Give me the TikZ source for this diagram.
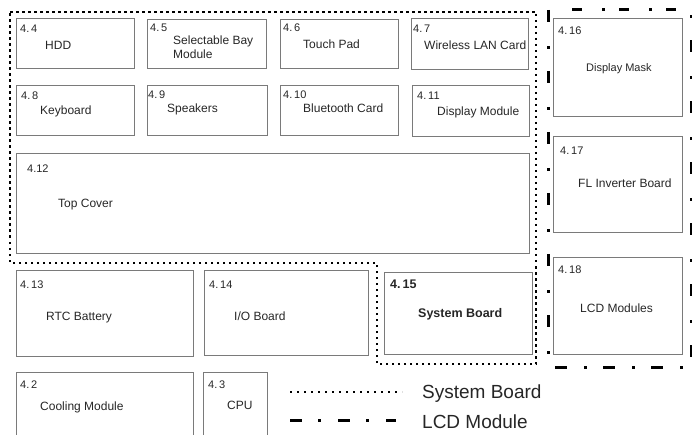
\documentclass[tikz,border=0pt]{standalone}
\usepackage{fontspec}
\setmainfont{Liberation Sans}
\definecolor{boxgray}{HTML}{7A7A7A}
\definecolor{txtgray}{HTML}{262626}
\tikzset{
  box/.style={draw=boxgray, line width=0.9pt, inner sep=0pt, rectangle},
  num/.style={anchor=base west, inner sep=0pt, font=\fontsize{11}{13}\selectfont, text=txtgray},
  lbl/.style={anchor=base west, inner sep=0pt, font=\fontsize{12}{14}\selectfont, text=txtgray},
  sbline/.style={line width=2.5pt, dash pattern=on 2.5pt off 3.5pt},
  lcdh/.style={line width=3pt, dash pattern=on 10pt off 20pt on 3pt off 14pt},
  lcdv/.style={line width=3pt, dash pattern=on 12pt off 24pt on 3pt off 22pt},
  lcdb/.style={line width=3pt, dash pattern=on 12pt off 17pt on 3pt off 16pt},
  legtext/.style={anchor=base west, inner sep=0pt, font=\fontsize{19}{22}\selectfont, text=txtgray},
}
\newcommand\mkbox[5]{\node[box, minimum width={#4-#2}, minimum height={#5-#3}] (#1) at ({(#2+#4)/2},{(#3+#5)/2}) {};}
\begin{document}
\begin{tikzpicture}[x=1pt,y=-1pt]
\useasboundingbox (0,0) rectangle (692,435);
% boxes
\mkbox{b44}{16}{18}{134}{68}
\mkbox{b45}{147}{19}{266}{68}
\mkbox{b46}{280}{19}{398}{68}
\mkbox{b47}{411}{18}{528}{69}
\mkbox{b48}{16}{85}{134}{135}
\mkbox{b49}{147}{85}{267}{135}
\mkbox{b410}{280}{85}{398}{135}
\mkbox{b411}{412}{85}{529}{136}
\mkbox{b412}{16}{153}{529}{253}
\mkbox{b413}{16}{270}{193}{356}
\mkbox{b414}{204}{270}{368}{355}
\mkbox{b415}{384}{272}{532}{354}
\mkbox{b42}{16}{372}{193}{445}
\mkbox{b43}{203}{372}{267}{445}
\mkbox{b416}{553}{18}{682}{116}
\mkbox{b417}{553}{136}{682}{232}
\mkbox{b418}{553}{257}{682}{354}
% numbers
\node[num] (n44) at (20,33) {4.\,4};
\node[num] (n45) at (150,32) {4.\,5};
\node[num] (n46) at (283,32) {4.\,6};
\node[num] (n47) at (413,33) {4.\,7};
\node[num] (n48) at (21,100) {4.\,8};
\node[num] (n49) at (148,99) {4.\,9};
\node[num] (n410) at (283,99) {4.\,10};
\node[num] (n411) at (417,100) {4.\,11};
\node[num] (n412) at (27,173) {4.12};
\node[num] (n413) at (20,288) {4.\,13};
\node[num] (n414) at (209,288) {4.\,14};
\node[num, font=\bfseries\fontsize{12.5}{14}\selectfont] (n415) at (390,288) {4.\,15};
\node[num] (n42) at (20,388) {4.\,2};
\node[num] (n43) at (208,388) {4.\,3};
\node[num] (n416) at (558,35) {4.\,16};
\node[num] (n417) at (560,155) {4.\,17};
\node[num] (n418) at (558,273) {4.\,18};
% labels
\node[lbl] (t44) at (45,50) {HDD};
\node[lbl] (t45a) at (173,45) {Selectable Bay};
\node[lbl] (t45b) at (173,59) {Module};
\node[lbl] (t46) at (303,49) {Touch Pad};
\node[lbl] (t47) at (424,50) {Wireless LAN Card};
\node[lbl] (t48) at (40,115) {Keyboard};
\node[lbl] (t49) at (167,113) {Speakers};
\node[lbl] (t410) at (303,113) {Bluetooth Card};
\node[lbl] (t411) at (437,116) {Display Module};
\node[lbl] (t412) at (58,208) {Top Cover};
\node[lbl] (t413) at (46,320) {RTC Battery};
\node[lbl] (t414) at (234,320) {I/O Board};
\node[lbl, font=\bfseries\fontsize{12.5}{14}\selectfont] (t415) at (418,317) {System Board};
\node[lbl] (t42) at (40,410) {Cooling Module};
\node[lbl] (t43) at (227,409) {CPU};
\node[lbl, font=\fontsize{11}{13}\selectfont] (t416) at (586,72) {Display Mask};
\node[lbl] (t417) at (578,188) {FL Inverter Board};
\node[lbl] (t418) at (580,312) {LCD Modules};
% system board outline
\coordinate (s1) at (10,12);
\coordinate (s2) at (536,12);
\coordinate (s3) at (536,364);
\coordinate (s4) at (377,364);
\coordinate (s5) at (377,263);
\coordinate (s6) at (10,263);
\draw[sbline] (s1) -- (s2) -- (s3) -- (s4) -- (s5) -- (s6) -- cycle;
% LCD module outline
\coordinate (l1) at (572,10);
\coordinate (l2) at (691,10);
\coordinate (l3) at (548,10);
\coordinate (l4) at (548,367);
\coordinate (l5) at (691,15);
\coordinate (l6) at (691,367);
\coordinate (l7) at (555,367);
\draw[lcdh] (l1) -- (l2);
\draw[lcdv] (l3) -- (l4);
\draw[lcdv, dash pattern=on 3pt off 22pt on 12pt off 24pt] (l5) -- (l6);
\draw[lcdb] (l7) -- (l6);
% legend
\coordinate (ga) at (290,392);
\coordinate (gb) at (402,392);
\coordinate (gc) at (290,420);
\coordinate (gd) at (396,420);
\draw[line width=1.6pt, dash pattern=on 1.6pt off 5.4pt] (ga) -- (gb);
\draw[line width=3pt, dash pattern=on 12pt off 16pt on 3pt off 17pt] (gc) -- (gd);
\node[legtext] (leg1) at (422,398) {System Board};
\node[legtext] (leg2) at (422,428) {LCD Module};
\end{tikzpicture}
\end{document}
